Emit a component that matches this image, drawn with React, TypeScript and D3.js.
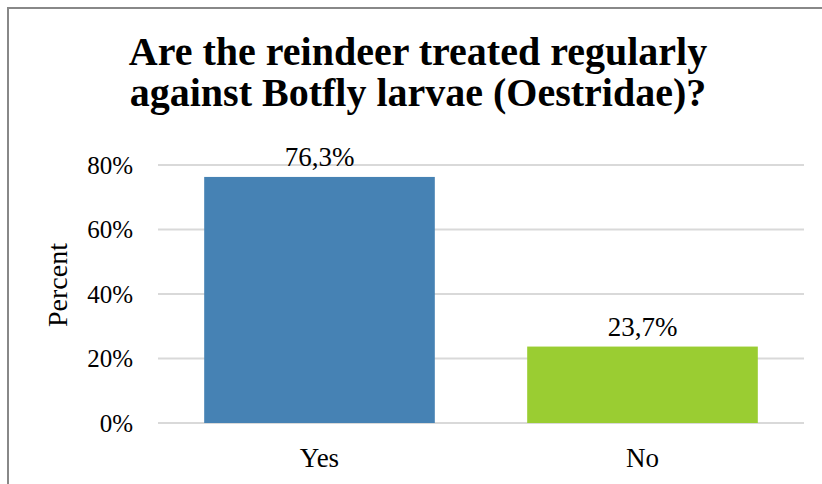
import * as d3 from "d3";
import React, { useEffect, useRef } from "react";

const categories = ["Yes", "No"];
const values = [76.3, 23.7];
const colors = ["#4682b4", "#9acd32"];
const yTicks = [0, 20, 40, 60, 80];
const titleLines = [
  "Are the reindeer treated regularly",
  "against Botfly larvae (Oestridae)?",
];

const W = 822;
const H = 484;
const FONT = "'Liberation Serif', 'DejaVu Serif', serif";

export default function App() {
  const svgRef = useRef<SVGSVGElement>(null);

  useEffect(() => {
    if (!svgRef.current) return;
    const svg = d3.select(svgRef.current);
    svg.selectAll("*").remove();

    const margin = { top: 165, right: 18, bottom: 61, left: 158 };

    // chart frame
    svg
      .append("path")
      .attr("d", `M8,${H} L8,8 L${W},8`)
      .attr("fill", "none")
      .attr("stroke", "#888")
      .attr("stroke-width", 2);

    // title
    svg
      .append("g")
      .selectAll("text")
      .data(titleLines)
      .join("text")
      .attr("x", 418)
      .attr("y", (_, i) => 65 + i * 41)
      .attr("text-anchor", "middle")
      .attr("font-family", FONT)
      .attr("font-weight", "bold")
      .attr("font-size", 40)
      .attr("fill", "#000")
      .text((d) => d);

    const x = d3
      .scaleBand()
      .domain(categories)
      .range([margin.left, W - margin.right])
      .paddingInner(0.286)
      .paddingOuter(0.143);

    const y = d3
      .scaleLinear()
      .domain([0, 80])
      .range([H - margin.bottom, margin.top]);

    // grid
    svg
      .append("g")
      .selectAll("line")
      .data(yTicks)
      .join("line")
      .attr("x1", margin.left)
      .attr("x2", W - margin.right)
      .attr("y1", (d) => y(d))
      .attr("y2", (d) => y(d))
      .attr("stroke", "#d9d9d9")
      .attr("stroke-width", 2);

    // y tick labels
    svg
      .append("g")
      .selectAll("text")
      .data(yTicks)
      .join("text")
      .attr("x", 133)
      .attr("y", (d) => y(d))
      .attr("dy", "0.35em")
      .attr("text-anchor", "end")
      .attr("font-family", FONT)
      .attr("font-size", 25)
      .text((d) => `${d}%`);

    // y axis title
    svg
      .append("text")
      .attr("transform", `translate(67,285) rotate(-90)`)
      .attr("text-anchor", "middle")
      .attr("font-family", FONT)
      .attr("font-size", 28)
      .text("Percent");

    // bars
    svg
      .append("g")
      .selectAll("rect")
      .data(values)
      .join("rect")
      .attr("x", (_, i) => x(categories[i])!)
      .attr("y", (d) => y(d))
      .attr("width", x.bandwidth())
      .attr("height", (d) => y(0) - y(d))
      .attr("fill", (_, i) => colors[i]);

    // value labels
    svg
      .append("g")
      .selectAll("text")
      .data(values)
      .join("text")
      .attr("x", (_, i) => x(categories[i])! + x.bandwidth() / 2)
      .attr("y", (d) => y(d) - 11)
      .attr("text-anchor", "middle")
      .attr("font-family", FONT)
      .attr("font-size", 27)
      .text((d) => `${d.toFixed(1).replace(".", ",")}%`);

    // category labels
    svg
      .append("g")
      .selectAll("text")
      .data(categories)
      .join("text")
      .attr("x", (d) => x(d)! + x.bandwidth() / 2)
      .attr("y", 467)
      .attr("text-anchor", "middle")
      .attr("font-family", FONT)
      .attr("font-size", 27)
      .text((d) => d);
  }, []);

  return (
    <svg
      ref={svgRef}
      width={W}
      height={H}
      style={{ position: "absolute", left: 0, top: 0, background: "#fff" }}
    />
  );
}
